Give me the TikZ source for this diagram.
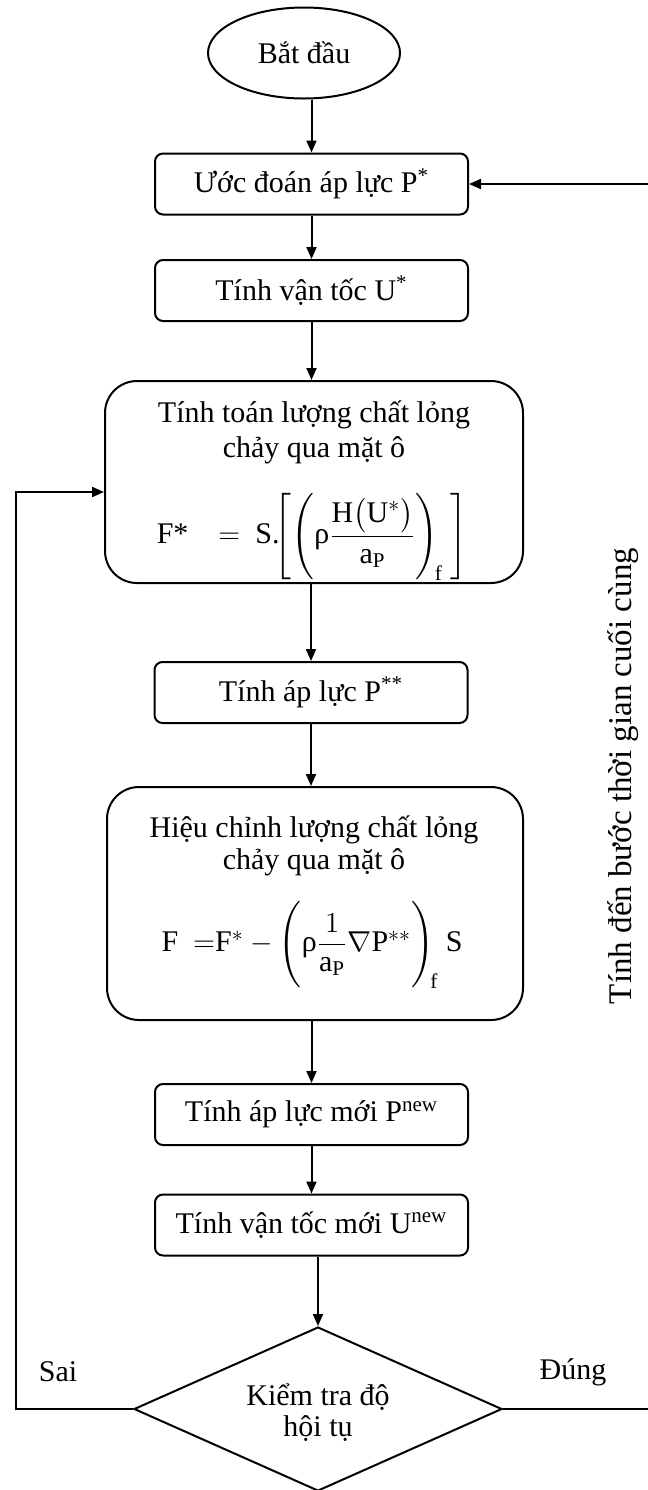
\documentclass[tikz,border=0pt]{standalone}
\usepackage{amsmath}
\usepackage{fontspec}
\setmainfont{Liberation Serif}
\usetikzlibrary{shapes.geometric,arrows.meta}

\tikzset{
  txt/.style={font=\fontsize{15}{17.5}\selectfont, align=center, inner sep=0pt},
  stepbox/.style={draw, line width=1pt, rounded corners=4pt, minimum width=156.5pt,
    minimum height=30.5pt, inner sep=0pt, txt},
  bigbox/.style={draw, line width=1pt, rounded corners=16pt, inner sep=0pt},
  conn/.style={line width=1pt, -{Triangle[length=6pt,width=5pt]}}
}

\begin{document}
\begin{tikzpicture}[x=0.5pt,y=-0.5pt]
\useasboundingbox (0,0) rectangle (648,1490);

% start
\node[draw, line width=1pt, ellipse, minimum width=96pt, minimum height=45.5pt,
  inner sep=0pt, txt] (start) at (304,53) {Bắt đầu};

% process steps
\node[stepbox] (b1) at (311.5,184) {Ước đoán áp lực P\textsuperscript{*}};
\node[stepbox] (b2) at (311.5,290.5) {Tính vận tốc U\textsuperscript{*}};

\node[bigbox, minimum width=209pt, minimum height=101pt] (big1) at (314,482) {};
\node[txt] (big1a) at (314,415) {Tính toán lượng chất lỏng};
\node[txt] (big1b) at (314,450) {chảy qua mặt ô};
\node[txt] (big1f) at (312,537)
  {F*\quad$=$\ \ S.$\!\left[\left(\text{ρ}\dfrac{\mathrm{H}\bigl(\mathrm{U}^{*}\bigr)}{\mathrm{a}_{\mathrm{P}}}\right)_{\!\mathrm{f}}\ \right]$};

\node[stepbox] (pss) at (311,692.5) {Tính áp lực P\textsuperscript{**}};

\node[bigbox, minimum width=208pt, minimum height=116.5pt] (big2) at (315,903.5) {};
\node[txt] (big2a) at (314,830) {Hiệu chỉnh lượng chất lỏng};
\node[txt] (big2b) at (314,862) {chảy qua mặt ô};
\node[txt] (big2f) at (312,945)
  {F\ \ $=$F$^{*}-\Biggl(\text{ρ}\dfrac{1}{\mathrm{a}_{\mathrm{P}}}\nabla\mathrm{P}^{**}\Biggr)_{\!\mathrm{f}}$\ S};

\node[stepbox] (pnew) at (311.5,1114.5) {Tính áp lực mới P\textsuperscript{new}};
\node[stepbox] (unew) at (311.5,1225) {Tính vận tốc mới U\textsuperscript{new}};

% convergence test
\node[draw, line width=1pt, diamond, aspect=2.24, minimum width=184pt, minimum height=82pt,
  inner sep=0pt] (dia) at (318,1409) {};
\node[txt] (diatxt) at (318,1413) {Kiểm tra độ\\[-2pt]hội tụ};

% labels
\node[txt] (sai) at (58,1372) {Sai};
\node[txt] (dung) at (573,1372) {Đúng};
\node[txt, font=\fontsize{16.5}{19}\selectfont, rotate=90] (tend) at (623,776)
  {Tính đến bước thời gian cuối cùng};

% main flow
\draw[conn] (start.south -| b1.north) -- (b1.north);
\draw[conn] (b1.south) -- (b2.north);
\draw[conn] (b2.south) -- (b2.south |- big1.north);
\draw[conn] (pss.north |- big1.south) -- (pss.north);
\draw[conn] (pss.south) -- (pss.south |- big2.north);
\draw[conn] (pnew.north |- big2.south) -- (pnew.north);
\draw[conn] (pnew.south) -- (unew.north);
\draw[conn] (dia.north |- unew.south) -- (dia.north);

% loops
\coordinate (lc) at (16,492);
\coordinate (rc) at (651,184);
\draw[conn] (dia.west) -| (lc) -- (lc -| big1.west);
\draw[conn] (dia.east) -| (rc) -- (b1.east);
\end{tikzpicture}
\end{document}
